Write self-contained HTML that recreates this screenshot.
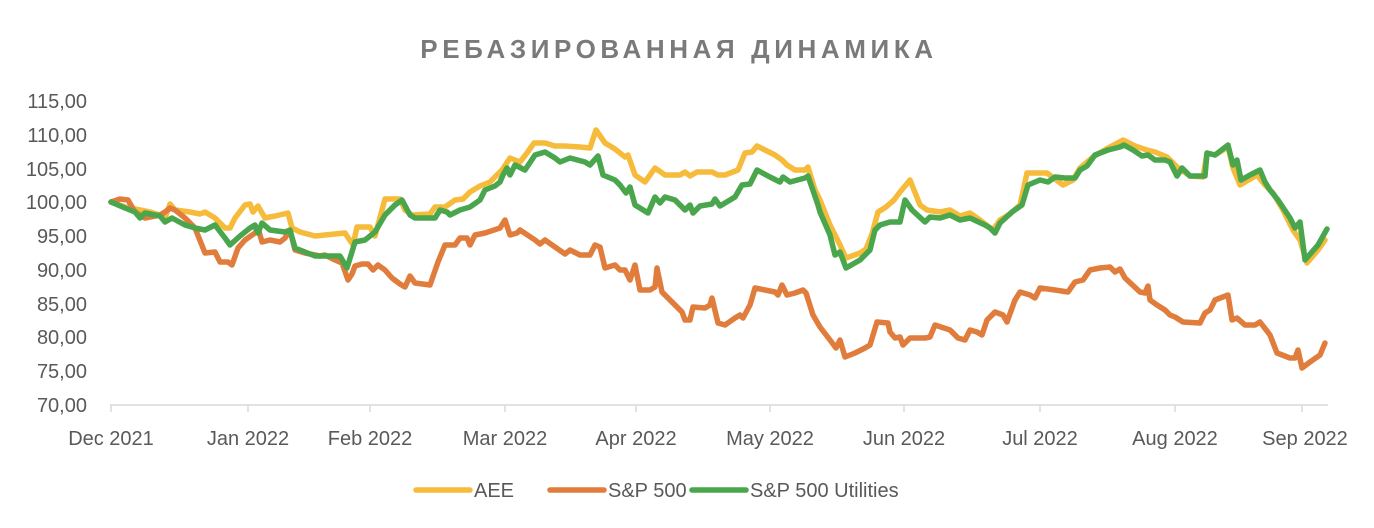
<!DOCTYPE html>
<html><head><meta charset="utf-8"><style>
html,body{margin:0;padding:0;background:#fff;}
svg{display:block;font-family:"Liberation Sans",sans-serif;}
</style></head><body>
<svg width="1374" height="528" viewBox="0 0 1374 528" xmlns="http://www.w3.org/2000/svg">
<text x="679" y="58" text-anchor="middle" font-size="26" font-weight="bold" fill="#7a7a7a" letter-spacing="4.6">РЕБАЗИРОВАННАЯ ДИНАМИКА</text>
<g font-size="20" fill="#595959" text-anchor="end">
<text x="87" y="108">115,00</text>
<text x="87" y="142">110,00</text>
<text x="87" y="176">105,00</text>
<text x="87" y="209">100,00</text>
<text x="87" y="243">95,00</text>
<text x="87" y="277">90,00</text>
<text x="87" y="311">85,00</text>
<text x="87" y="344">80,00</text>
<text x="87" y="378">75,00</text>
<text x="87" y="412">70,00</text>
</g>
<line x1="110" y1="405" x2="1328" y2="405" stroke="#d9d9d9" stroke-width="1.5"/>
<g stroke="#d9d9d9" stroke-width="1.5">
<line x1="111" y1="405" x2="111" y2="412"/><line x1="248" y1="405" x2="248" y2="412"/><line x1="370" y1="405" x2="370" y2="412"/><line x1="505" y1="405" x2="505" y2="412"/><line x1="636" y1="405" x2="636" y2="412"/><line x1="770" y1="405" x2="770" y2="412"/><line x1="904" y1="405" x2="904" y2="412"/><line x1="1040" y1="405" x2="1040" y2="412"/><line x1="1175" y1="405" x2="1175" y2="412"/><line x1="1302" y1="405" x2="1302" y2="412"/>
</g>
<g font-size="20" fill="#595959" text-anchor="middle">
<text x="111" y="445">Dec 2021</text><text x="248" y="445">Jan 2022</text><text x="370" y="445">Feb 2022</text><text x="505" y="445">Mar 2022</text><text x="636" y="445">Apr 2022</text><text x="770" y="445">May 2022</text><text x="904" y="445">Jun 2022</text><text x="1040" y="445">Jul 2022</text><text x="1175" y="445">Aug 2022</text><text x="1305" y="445">Sep 2022</text>
</g>
<g fill="none" stroke-width="5.5" stroke-linejoin="round" stroke-linecap="round">
<polyline stroke="#F6BB3A" points="111,202 125,207 140,210 150,212 160,215 165,218 170,204 175,210 190,212 200,214 205,212 215,218 225,228 230,228 235,218 245,205 250,204 253,212 258,206 265,218 275,216 288,213 292,228 300,232 315,236 325,235 345,233 353,245 357,227 370,227 375,236 385,199 400,199 405,210 412,215 430,214 435,207 445,207 455,200 463,199 470,192 480,186 490,182 502,170 510,158 520,162 527,153 534,143 545,143 555,146 565,146 580,147 590,148 596,130 605,143 615,149 625,157 628,155 635,175 645,182 655,168 665,175 680,175 685,172 690,176 697,172 712,172 718,175 725,175 738,170 745,153 752,152 757,146 765,150 775,155 782,160 787,165 795,170 805,170 808,167 815,190 820,200 830,225 840,245 846,258 860,253 866,249 872,234 878,212 886,207 894,200 900,192 910,180 920,205 927,210 940,212 950,210 960,216 970,213 980,220 993,230 1000,220 1010,214 1020,205 1027,173 1047,173 1063,185 1073,180 1080,168 1093,157 1108,148 1123,140 1135,146 1147,150 1155,152 1167,157 1177,167 1190,176 1203,177 1207,153 1215,155 1228,147 1233,168 1240,185 1257,175 1265,185 1273,193 1283,210 1293,230 1300,240 1307,263 1318,250 1325,240"/>
<polyline stroke="#E07D3C" points="111,202 120,199 128,200 135,212 145,218 155,216 160,215 165,212 170,208 175,210 185,218 195,228 205,253 215,252 220,262 228,262 232,265 238,248 245,240 255,233 258,228 262,242 270,240 280,242 285,238 290,230 295,250 305,253 320,256 325,255 335,260 342,263 348,280 352,274 355,266 362,264 368,264 373,270 378,265 385,270 392,278 400,284 405,287 410,276 415,283 430,285 438,262 445,245 455,245 460,238 467,238 470,245 475,235 485,233 500,228 505,220 510,235 517,233 520,230 535,240 540,244 545,240 555,247 565,254 570,250 580,255 590,255 595,245 600,247 605,268 615,265 620,270 625,270 630,280 635,265 640,290 650,290 655,287 657,268 662,292 675,305 682,312 685,320 690,320 693,307 705,308 710,305 712,298 718,323 725,325 735,318 740,315 743,318 750,305 755,288 765,290 775,292 778,295 782,285 787,295 795,293 803,290 806,293 813,315 820,327 830,340 836,348 840,340 845,357 855,353 865,348 870,345 877,322 888,323 890,332 895,338 900,337 903,345 910,338 925,338 930,337 935,325 950,330 958,338 965,340 970,330 977,332 982,335 987,320 995,312 1003,315 1007,322 1015,300 1020,292 1030,295 1035,298 1040,288 1055,290 1068,292 1075,282 1083,280 1090,270 1100,268 1110,267 1115,272 1120,269 1125,278 1140,292 1145,293 1148,286 1150,300 1157,305 1165,310 1170,315 1175,317 1183,322 1200,323 1205,313 1210,310 1215,300 1228,295 1232,320 1237,318 1245,325 1255,325 1260,322 1270,335 1277,353 1290,358 1295,358 1298,350 1302,368 1310,362 1320,355 1325,343"/>
<polyline stroke="#4AA64C" points="111,202 125,208 135,212 140,218 145,213 160,216 165,222 172,218 185,225 195,228 205,230 215,225 225,238 230,245 240,236 250,228 255,225 258,233 262,223 270,230 285,232 290,230 295,248 305,252 315,256 340,256 347,268 355,242 365,240 375,232 385,215 395,205 402,200 410,215 415,218 435,218 440,210 447,212 450,215 460,210 470,207 480,200 485,190 495,186 500,182 503,175 507,168 510,175 515,165 525,170 535,155 545,152 555,158 560,162 565,160 570,158 585,162 590,165 598,156 603,175 615,180 620,185 626,193 630,187 635,205 648,213 655,197 660,203 665,197 675,200 680,205 685,210 690,205 693,213 700,206 712,204 715,199 720,206 735,197 742,185 750,184 757,170 770,177 780,182 783,177 790,182 805,178 808,176 818,205 820,212 830,235 835,255 840,252 846,268 860,260 870,250 875,230 880,225 890,222 900,222 905,200 912,210 925,222 930,217 940,218 950,215 960,220 970,218 985,225 990,228 995,233 1000,223 1012,212 1022,205 1028,185 1040,180 1048,182 1055,177 1065,178 1075,178 1080,170 1087,166 1095,155 1108,150 1120,147 1124,145 1133,150 1142,156 1148,155 1155,160 1165,160 1170,162 1177,176 1182,168 1190,176 1205,176 1207,153 1215,155 1228,145 1233,165 1237,160 1241,180 1250,175 1260,170 1265,182 1270,190 1278,200 1290,218 1295,228 1300,222 1305,260 1318,245 1327,229"/>
</g>
<g stroke-width="5.5" stroke-linecap="round">
<line x1="416" y1="490" x2="470" y2="490" stroke="#F6BB3A"/>
<line x1="550" y1="490" x2="604" y2="490" stroke="#E07D3C"/>
<line x1="692" y1="490" x2="746" y2="490" stroke="#4AA64C"/>
</g>
<g font-size="20" fill="#595959">
<text x="474" y="497">AEE</text>
<text x="608" y="497">S&amp;P 500</text>
<text x="750" y="497">S&amp;P 500 Utilities</text>
</g>
</svg>
</body></html>
